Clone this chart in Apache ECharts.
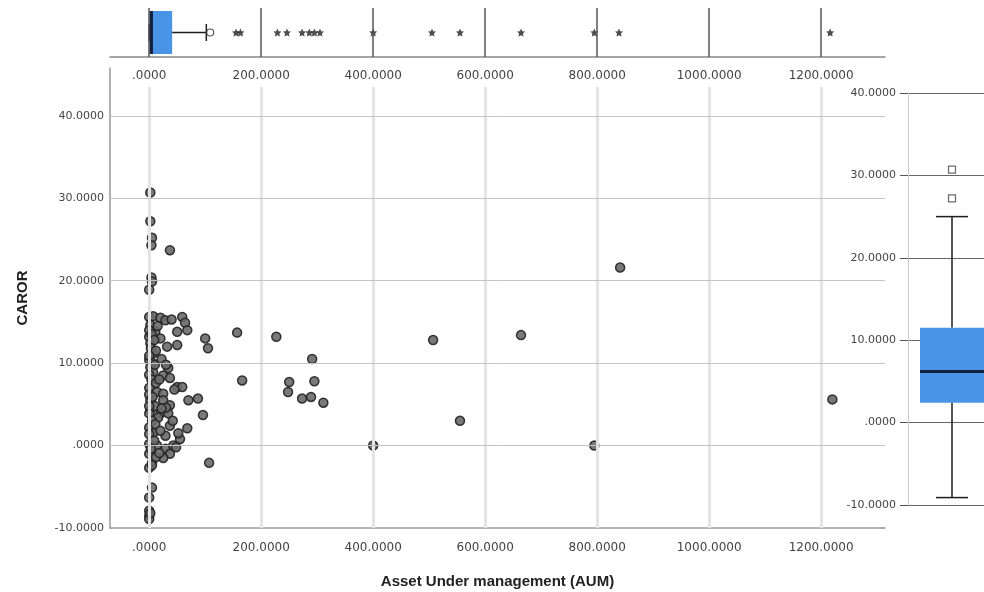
<!DOCTYPE html>
<html>
<head>
<meta charset="utf-8">
<title>CAROR vs AUM</title>
<script src="https://cdn.jsdelivr.net/npm/echarts@6/dist/echarts.min.js"></script>
<style>
  html, body { margin: 0; padding: 0; background: #fff; }
  #chart { width: 984px; height: 592px; }
</style>
</head>
<body>
<div id="chart"></div>
<script>
// scatter points (AUM on x, CAROR on y)
const aum = [
  2, 2, 5, 4, 37, 4, 5, 0, 0, 7, 20, 29, 59, 64, 50, 68, 2, 11, 0, 20,
  100, 105, 157, 2, 32, 50, 7, 0, 2, 7, 25, 34, 37, 50, 59, 0, 14, 25, 2, 25,
  37, 70, 87, 2, 20, 34, 96, 30, 0, 16, 37, 68, 0, 7, 29, 55, 52, 0, 14, 29,
  37, 25, 0, 43, 5, 0, 5, 107, 5, 0, 0, 0, 0, 166, 227, 291, 250, 248, 295, 273,
  289, 311, 507, 664, 841, 555, 400, 795, 1220, 0, 4, 9, 3, 12, 0, 6, 10, 0, 4, 12,
  0, 6, 10, 0, 5, 11, 0, 9, 3, 12, 18, 20, 22, 18, 22, 15, 40, 45, 42, 48,
  30, 2
];
const caror = [
  30.7, 27.2, 25.2, 24.3, 23.7, 20.4, 19.9, 18.9, 15.6, 15.7, 15.5, 15.2, 15.6, 14.9, 13.8, 14.0, 14.6, 13.8, 13.2, 13.0,
  13.0, 11.8, 13.7, 12.4, 12.0, 12.2, 11.2, 10.4, 9.5, 8.9, 8.5, 9.4, 8.2, 7.1, 7.1, 7.0, 6.5, 6.3, 5.5, 5.5,
  4.9, 5.5, 5.7, 4.3, 3.9, 3.9, 3.7, 4.6, 3.9, 3.4, 2.4, 2.1, 2.2, 1.5, 1.2, 0.8, 1.5, 0.2, 0.0, -0.4,
  -1.0, -1.5, -1.0, 0.0, -2.1, -2.7, -2.4, -2.1, -5.1, -6.3, -7.9, -8.5, -8.9, 7.9, 13.2, 10.5, 7.7, 6.5, 7.8, 5.7,
  5.9, 5.2, 12.8, 13.4, 21.6, 3.0, 0.0, 0.0, 5.6, 14.0, 13.5, 12.8, 11.8, 11.5, 10.9, 10.0, 9.8, 8.6, 8.0, 7.6,
  6.2, 5.9, 4.8, 4.8, 3.0, 2.6, 1.4, 0.6, -0.4, -1.4, -0.9, 1.8, 4.5, 8.0, 10.5, 14.5, 15.3, 6.8, 3.0, -0.2,
  9.8, -8.2
];

// marginal boxplots: [min, Q1, median, Q3, max]
const aumBox = [0, 0, 4, 41, 102];
const aumOutliers = [109];
const aumExtremes = [155, 163, 229, 246, 273, 286, 295, 305, 400, 505, 555, 664, 795, 839, 1216];
const carorBox = [-9.1, 2.4, 6.2, 11.5, 25.0];
const carorOutliers = [27.2, 30.7];

// tick values
const xTicks = [0, 200, 400, 600, 800, 1000, 1200];
const yTicks = [-10, 0, 10, 20, 30, 40];

const chart = echarts.init(document.getElementById('chart'));

const tickFont = 'DejaVu Sans';
const boxBlue = '#4a94e8';

function fmt(v) {
  const r = Math.round(v);
  if (Math.abs(v - r) > 1e-6) return '';
  return r === 0 ? '.0000' : r.toFixed(4);
}
function fmtX(v) {
  const r = Math.round(v);
  if (Math.abs(v - r) > 1e-6 || r % 200 !== 0) return '';
  return fmt(r);
}

// horizontal box in the top strip
function renderAumBox(params, api) {
  const c = 0.5;
  const pMin = api.coord([api.value(0), c]);
  const pQ1 = api.coord([api.value(1), c]);
  const pMed = api.coord([api.value(2), c]);
  const pQ3 = api.coord([api.value(3), c]);
  const pMax = api.coord([api.value(4), c]);
  const y = pMed[1], half = 21.5, cap = 8.5;
  const ls = { stroke: '#1e1e1e', lineWidth: 1.5 };
  return {
    type: 'group',
    children: [
      { type: 'rect', shape: { x: pQ1[0], y: y - half, width: pQ3[0] - pQ1[0], height: half * 2 }, style: { fill: boxBlue } },
      { type: 'line', shape: { x1: pQ3[0], y1: y, x2: pMax[0], y2: y }, style: ls },
      { type: 'line', shape: { x1: pMax[0], y1: y - cap, x2: pMax[0], y2: y + cap }, style: ls },
      { type: 'line', shape: { x1: pMin[0], y1: y - cap, x2: pMin[0], y2: y + cap }, style: ls },
      { type: 'line', shape: { x1: pMed[0], y1: y - half, x2: pMed[0], y2: y + half }, style: { stroke: '#14213d', lineWidth: 3 } }
    ]
  };
}

// vertical box in the right strip
function renderCarorBox(params, api) {
  const c = 0.5;
  const pMin = api.coord([c, api.value(0)]);
  const pQ1 = api.coord([c, api.value(1)]);
  const pMed = api.coord([c, api.value(2)]);
  const pQ3 = api.coord([c, api.value(3)]);
  const pMax = api.coord([c, api.value(4)]);
  const x = pMed[0], half = 32, cap = 16;
  const ls = { stroke: '#1e1e1e', lineWidth: 1.5 };
  return {
    type: 'group',
    children: [
      { type: 'line', shape: { x1: x, y1: pQ3[1], x2: x, y2: pMax[1] }, style: ls },
      { type: 'line', shape: { x1: x, y1: pQ1[1], x2: x, y2: pMin[1] }, style: ls },
      { type: 'line', shape: { x1: x - cap, y1: pMax[1], x2: x + cap, y2: pMax[1] }, style: ls },
      { type: 'line', shape: { x1: x - cap, y1: pMin[1], x2: x + cap, y2: pMin[1] }, style: ls },
      { type: 'rect', shape: { x: x - half, y: pQ3[1], width: half * 2, height: pQ1[1] - pQ3[1] }, style: { fill: boxBlue } },
      { type: 'line', shape: { x1: x - half, y1: pMed[1], x2: x + half, y2: pMed[1] }, style: { stroke: '#14213d', lineWidth: 3 } }
    ]
  };
}

const starPath = 'path://M0,-10 L2.9,-4 9.5,-3.1 4.7,1.5 5.9,8.1 0,5 -5.9,8.1 -4.7,1.5 -9.5,-3.1 -2.9,-4 Z';

chart.setOption({
  backgroundColor: '#fff',
  animation: false,
  grid: [
    { left: 110, top: 68, width: 775, height: 460, outerBoundsMode: 'none' },   // main scatter
    { left: 110, top: 8, width: 775, height: 49, outerBoundsMode: 'none' },     // top box strip
    { left: 908, top: 93, width: 88, height: 412, outerBoundsMode: 'none' }     // right box strip
  ],
  xAxis: [
    {
      gridIndex: 0, type: 'value', min: -70, max: 1314, interval: 10,
      name: 'Asset Under management (AUM)', nameLocation: 'middle', nameGap: 46,
      nameTextStyle: { fontFamily: 'Liberation Sans', fontWeight: 'bold', fontSize: 15, color: '#222' },
      axisLine: { show: true, onZero: false, lineStyle: { color: '#999', width: 1.5 } },
      axisTick: { show: false },
      splitLine: { show: false },
      axisLabel: { formatter: fmtX, margin: 14, fontSize: 12, fontFamily: tickFont, color: '#444' }
    },
    {
      gridIndex: 1, type: 'value', min: -70, max: 1314, interval: 10,
      axisLine: { show: true, onZero: false, lineStyle: { color: '#888', width: 1.5 } },
      axisTick: { show: false },
      splitLine: { show: false },
      axisLabel: { formatter: fmtX, margin: 13, fontSize: 12, fontFamily: tickFont, color: '#444' }
    },
    { gridIndex: 2, type: 'value', min: 0, max: 1, show: false }
  ],
  yAxis: [
    {
      gridIndex: 0, type: 'value', min: -10, max: 45.8, interval: 10,
      name: 'CAROR', nameLocation: 'middle', nameGap: 80,
      nameTextStyle: { fontFamily: 'Liberation Sans', fontWeight: 'bold', fontSize: 15, color: '#222' },
      axisLine: { show: true, onZero: false, lineStyle: { color: '#999', width: 1.5 } },
      axisTick: { show: false },
      splitLine: { show: false },
      axisLabel: { formatter: fmt, showMaxLabel: false, margin: 6, fontSize: 11, fontFamily: tickFont, color: '#444' }
    },
    { gridIndex: 1, type: 'value', min: 0, max: 1, show: false },
    {
      gridIndex: 2, type: 'value', min: -10, max: 40, interval: 10,
      axisLine: { show: true, onZero: false, lineStyle: { color: '#ccc', width: 1 } },
      axisTick: { show: true, length: 8, lineStyle: { color: '#555' } },
      splitLine: { show: true, lineStyle: { color: '#666', width: 1 } },
      axisLabel: { formatter: fmt, margin: 12, fontSize: 11, fontFamily: tickFont, color: '#444' }
    }
  ],
  series: [
    {
      // gridlines of the main scatter
      type: 'scatter', xAxisIndex: 0, yAxisIndex: 0, data: [], silent: true, z: 1,
      markLine: {
        silent: true, symbol: 'none', label: { show: false }, animation: false,
        data: xTicks.map(v => [
            { coord: [v, -10], lineStyle: { color: '#e4e4e4', width: 3, type: 'solid' } },
            { coord: [v, 43.5] }
          ])
          .concat(yTicks.filter(v => v > -10).map(v => ({ yAxis: v, lineStyle: { color: '#c4c4c4', width: 1, type: 'solid' } })))
      }
    },
    {
      type: 'scatter', xAxisIndex: 0, yAxisIndex: 0, z: 3,
      symbol: 'circle', symbolSize: 9,
      itemStyle: { color: '#6a6a6a', borderColor: '#222', borderWidth: 1.5, opacity: 0.9 },
      data: aum.map((v, i) => [v, caror[i]])
    },
    {
      // dark verticals of the top strip
      type: 'scatter', xAxisIndex: 1, yAxisIndex: 1, data: [], silent: true, z: 1,
      markLine: {
        silent: true, symbol: 'none', label: { show: false }, animation: false,
        lineStyle: { color: '#555', width: 1.5, type: 'solid' },
        data: xTicks.map(v => ({ xAxis: v }))
      }
    },
    {
      type: 'custom', xAxisIndex: 1, yAxisIndex: 1, z: 2,
      renderItem: renderAumBox, data: [aumBox]
    },
    {
      type: 'scatter', xAxisIndex: 1, yAxisIndex: 1, z: 3,
      symbol: 'circle', symbolSize: 7,
      itemStyle: { color: '#fff', borderColor: '#333', borderWidth: 1.2 },
      data: aumOutliers.map(v => [v, 0.5])
    },
    {
      type: 'scatter', xAxisIndex: 1, yAxisIndex: 1, z: 3,
      symbol: starPath, symbolSize: 8,
      itemStyle: { color: '#222' },
      data: aumExtremes.map(v => [v, 0.5])
    },
    {
      type: 'custom', xAxisIndex: 2, yAxisIndex: 2, z: 2,
      renderItem: renderCarorBox, data: [carorBox]
    },
    {
      type: 'scatter', xAxisIndex: 2, yAxisIndex: 2, z: 3,
      symbol: 'rect', symbolSize: 7,
      itemStyle: { color: '#fff', borderColor: '#444', borderWidth: 1.2 },
      data: carorOutliers.map(v => [0.5, v])
    }
  ]
});
</script>
</body>
</html>
